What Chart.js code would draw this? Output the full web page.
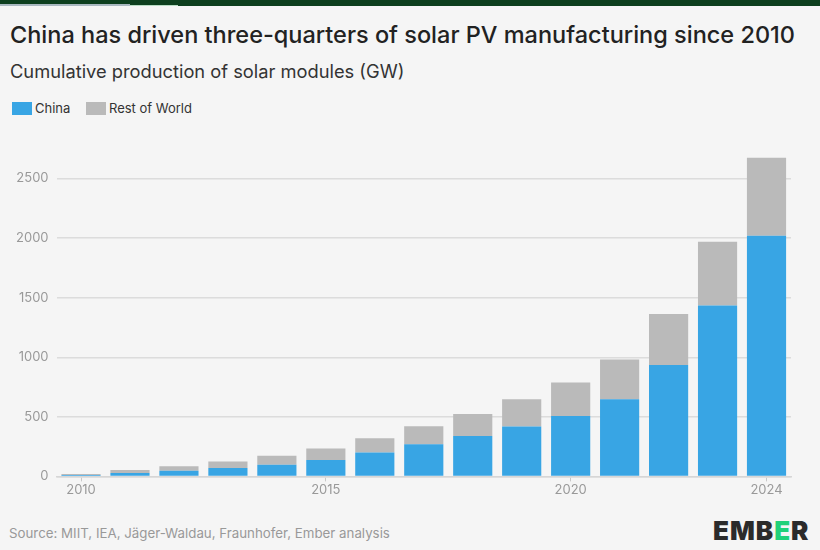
<!DOCTYPE html>
<html>
<head>
<meta charset="utf-8">
<script src="https://cdn.jsdelivr.net/npm/chart.js@4.4.1/dist/chart.umd.min.js"></script>
<style>
    body { margin: 0; background: #f5f5f5; font-family: Inter, "Noto Sans", sans-serif; }
    #wrap { position: relative; width: 820px; height: 550px; overflow: hidden; background: #f5f5f5; }
    #topbar { position: absolute; left: 0; top: 0; width: 820px; height: 6px; background: #0d3f1e; }
    #topbar2 { position: absolute; left: 0; top: 4px; width: 130px; height: 2px; background: #a9b8c0; }
    #topbar3 { position: absolute; left: 130px; top: 5px; width: 48px; height: 1px; background: #b8dcc4; }
    #title { position: absolute; left: 10px; top: 20px; font-size: 23.5px; font-weight: 500; color: #222; white-space: nowrap; }
    #subtitle { position: absolute; left: 10px; top: 60px; font-size: 18.3px; color: #333; white-space: nowrap; }
    #legend { position: absolute; left: 12px; top: 100px; font-size: 13px; color: #333; }
    #legend span.box { display: inline-block; width: 20px; height: 13px; vertical-align: -2px; margin-right: 3px; }
    #legend span.item { margin-right: 12px; }
    #chartbox { position: absolute; left: 0; top: 127px; width: 820px; height: 372px; }
    #source { position: absolute; left: 9px; top: 525px; font-size: 13.3px; color: #999; white-space: nowrap; }
    #logo { position: absolute; left: 713px; top: 515px; font-size: 26px; font-weight: 900; color: #2b2b2b; letter-spacing: 1px; }
    #logo b { color: #1fd17a; font-weight: 900; }
</style>
</head>
<body>
<div id="wrap">
    <div id="topbar"></div>
    <div id="topbar2"></div>
    <div id="topbar3"></div>
    <div id="title">China has driven three-quarters of solar PV manufacturing since 2010</div>
    <div id="subtitle">Cumulative production of solar modules (GW)</div>
    <div id="legend">
        <span class="item"><span class="box" style="background:#38a5e4"></span>China</span>
        <span class="item"><span class="box" style="background:#bababa"></span>Rest of World</span>
    </div>
    <div id="chartbox"><canvas id="myChart"></canvas></div>
    <div id="source">Source: MIIT, IEA, Jäger-Waldau, Fraunhofer, Ember analysis</div>
    <div id="logo">EMB<b>E</b>R</div>
</div>
<script>
    const years = ['2010', '2011', '2012', '2013', '2014', '2015', '2016', '2017', '2018', '2019', '2020', '2021', '2022', '2023', '2024'];
    const china = [12, 28, 47, 70, 98, 137, 201, 270, 340, 418, 507, 647, 934, 1435, 2020];
    const restOfWorld = [8, 25, 39, 55, 75, 97, 120, 151, 184, 229, 282, 334, 429, 535, 655];
    const shownYears = ['2010', '2015', '2020', '2024'];
    const yTicks = [0, 500, 1000, 1500, 2000, 2500];

    const ctx = document.getElementById('myChart').getContext('2d');
    const myChart = new Chart(ctx, {
        type: 'bar',
        data: {
            labels: years,
            datasets: [{
                label: 'China',
                data: china,
                backgroundColor: '#38a5e4',
                borderWidth: 0
            }, {
                label: 'Rest of World',
                data: restOfWorld,
                backgroundColor: '#bababa',
                borderWidth: 0
            }]
        },
        options: {
            responsive: true,
            maintainAspectRatio: false,
            animation: false,
            layout: { padding: { left: 8, right: 29, top: 0, bottom: 0 } },
            plugins: {
                legend: { display: false },
                tooltip: { enabled: false }
            },
            datasets: {
                bar: { categoryPercentage: 0.8, barPercentage: 1.0 }
            },
            scales: {
                x: {
                    stacked: true,
                    grid: {
                        offset: false,
                        drawOnChartArea: false,
                        tickLength: 5,
                        color: function (c) {
                            return shownYears.includes(years[c.index]) ? '#c8c8c8' : 'rgba(0,0,0,0)';
                        }
                    },
                    border: { color: '#d6d6d6', width: 1.5 },
                    ticks: {
                        autoSkip: false,
                        maxRotation: 0,
                        padding: 1,
                        color: '#999',
                        font: { family: 'Inter', size: 13 },
                        callback: function (value) {
                            const lab = this.getLabelForValue(value);
                            return shownYears.includes(lab) ? lab : '';
                        }
                    }
                },
                y: {
                    stacked: true,
                    min: 0,
                    max: 2800,
                    afterBuildTicks: function (scale) {
                        scale.ticks = yTicks.map(v => ({ value: v }));
                    },
                    grid: { color: '#dcdcdc', lineWidth: 1.5, drawTicks: false },
                    border: { display: false },
                    ticks: {
                        padding: 8,
                        color: '#999',
                        font: { family: 'Inter', size: 13 },
                        callback: function (value) {
                            return String(value);
                        }
                    }
                }
            }
        }
    });
</script>
</body>
</html>
